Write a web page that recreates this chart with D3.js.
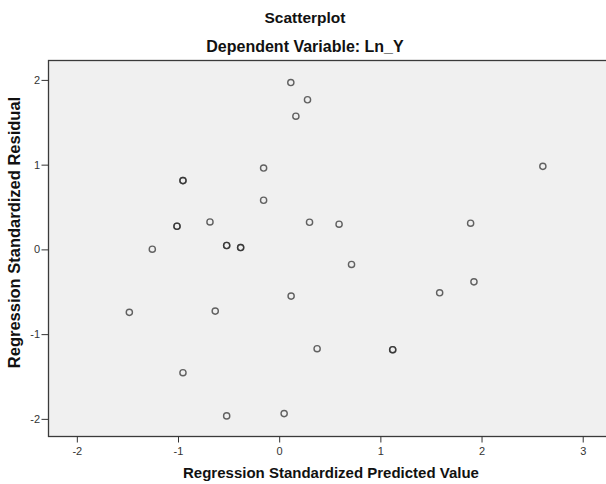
<!DOCTYPE html>
<html>
<head>
<meta charset="utf-8">
<script src="https://cdn.jsdelivr.net/npm/d3@7"></script>
<style>
  html, body { margin: 0; padding: 0; background: #ffffff; }
  svg { display: block; font-family: "Liberation Sans", Arial, sans-serif; }
</style>
</head>
<body>
<svg id="chart" width="606" height="484"></svg>
<script>
// Data. Duplicates represent overplotted cases.
const predicted = [
  0.115, 0.280, 0.165, -0.154, 2.606,
  -0.951, -0.951, -0.154, -1.010, -1.010,
  -0.684, 0.300, 0.592, 1.892, -1.254,
  -0.519, -0.519, -0.381, -0.381, 0.715,
  1.925, 1.586, 0.118, -1.481, -0.632,
  0.375, 1.122, 1.122, -0.951, -0.519, 0.049
];
const residual = [
  1.969, 1.766, 1.572, 0.960, 0.980,
  0.812, 0.812, 0.580, 0.273, 0.273,
  0.324, 0.320, 0.297, 0.309, 0.002,
  0.046, 0.046, 0.022, 0.022, -0.178,
  -0.383, -0.512, -0.551, -0.743, -0.728,
  -1.172, -1.184, -1.184, -1.455, -1.965, -1.938
];
const xTicks = [-2, -1, 0, 1, 2, 3];
const yTicks = [-2, -1, 0, 1, 2];
const title = "Scatterplot";
const subtitle = "Dependent Variable: Ln_Y";
const xLabel = "Regression Standardized Predicted Value";
const yLabel = "Regression Standardized Residual";

const points = predicted.map((x, i) => ({ x, y: residual[i] }));

const svg = d3.select("#chart");
const plot = { left: 48.5, top: 60.5, right: 607, bottom: 436.5 };

const x = d3.scaleLinear().domain([-2.28, 3.24]).range([plot.left, plot.right]);
const y = d3.scaleLinear().domain([-2.208, 2.229]).range([plot.bottom, plot.top]);

// Plot background and frame
svg.append("rect")
  .attr("x", plot.left).attr("y", plot.top)
  .attr("width", plot.right - plot.left).attr("height", plot.bottom - plot.top)
  .attr("fill", "#f0f0f0")
  .attr("stroke", "#3a3a3a").attr("stroke-width", 1.3);

// Axes
const fmt = d => String(d);
const xAxis = d3.axisBottom(x).tickValues(xTicks).tickSize(6).tickSizeOuter(0).tickFormat(fmt);
const gx = svg.append("g").attr("transform", `translate(0,${plot.bottom})`).call(xAxis);
gx.select(".domain").remove();
gx.selectAll(".tick line").attr("stroke", "#333").attr("stroke-width", 1);
gx.selectAll(".tick text").attr("fill", "#333").attr("font-size", "11px").attr("dy", "0").attr("y", 18.5)
  .attr("font-family", "'Liberation Sans', Arial, sans-serif");

const yAxis = d3.axisLeft(y).tickValues(yTicks).tickSize(7).tickSizeOuter(0).tickFormat(fmt);
const gy = svg.append("g").attr("transform", `translate(${plot.left},0)`).call(yAxis);
gy.select(".domain").remove();
gy.selectAll(".tick line").attr("stroke", "#333").attr("stroke-width", 1);
gy.selectAll(".tick text").attr("fill", "#333").attr("font-size", "11px").attr("x", -8.5)
  .attr("font-family", "'Liberation Sans', Arial, sans-serif");

// Points
svg.append("g").selectAll("circle").data(points).join("circle")
  .attr("cx", d => x(d.x))
  .attr("cy", d => y(d.y))
  .attr("r", 3.1)
  .attr("fill", "none")
  .attr("stroke", "#2a2a2a")
  .attr("stroke-opacity", 0.72)
  .attr("stroke-width", 1.4);

// Titles
svg.append("text").attr("x", 305).attr("y", 23.3).attr("text-anchor", "middle")
  .attr("font-size", "15.5px").attr("font-weight", "bold").attr("fill", "#111").text(title);
svg.append("text").attr("x", 305).attr("y", 52).attr("text-anchor", "middle")
  .attr("font-size", "16px").attr("font-weight", "bold").attr("fill", "#111").text(subtitle);

// Axis labels
svg.append("text").attr("x", 331).attr("y", 478).attr("text-anchor", "middle")
  .attr("font-size", "15px").attr("font-weight", "bold").attr("fill", "#111").text(xLabel);
svg.append("text").attr("transform", "translate(19.5,232.5) rotate(-90)").attr("text-anchor", "middle")
  .attr("font-size", "16.5px").attr("font-weight", "bold").attr("fill", "#111").text(yLabel);
</script>
</body>
</html>
